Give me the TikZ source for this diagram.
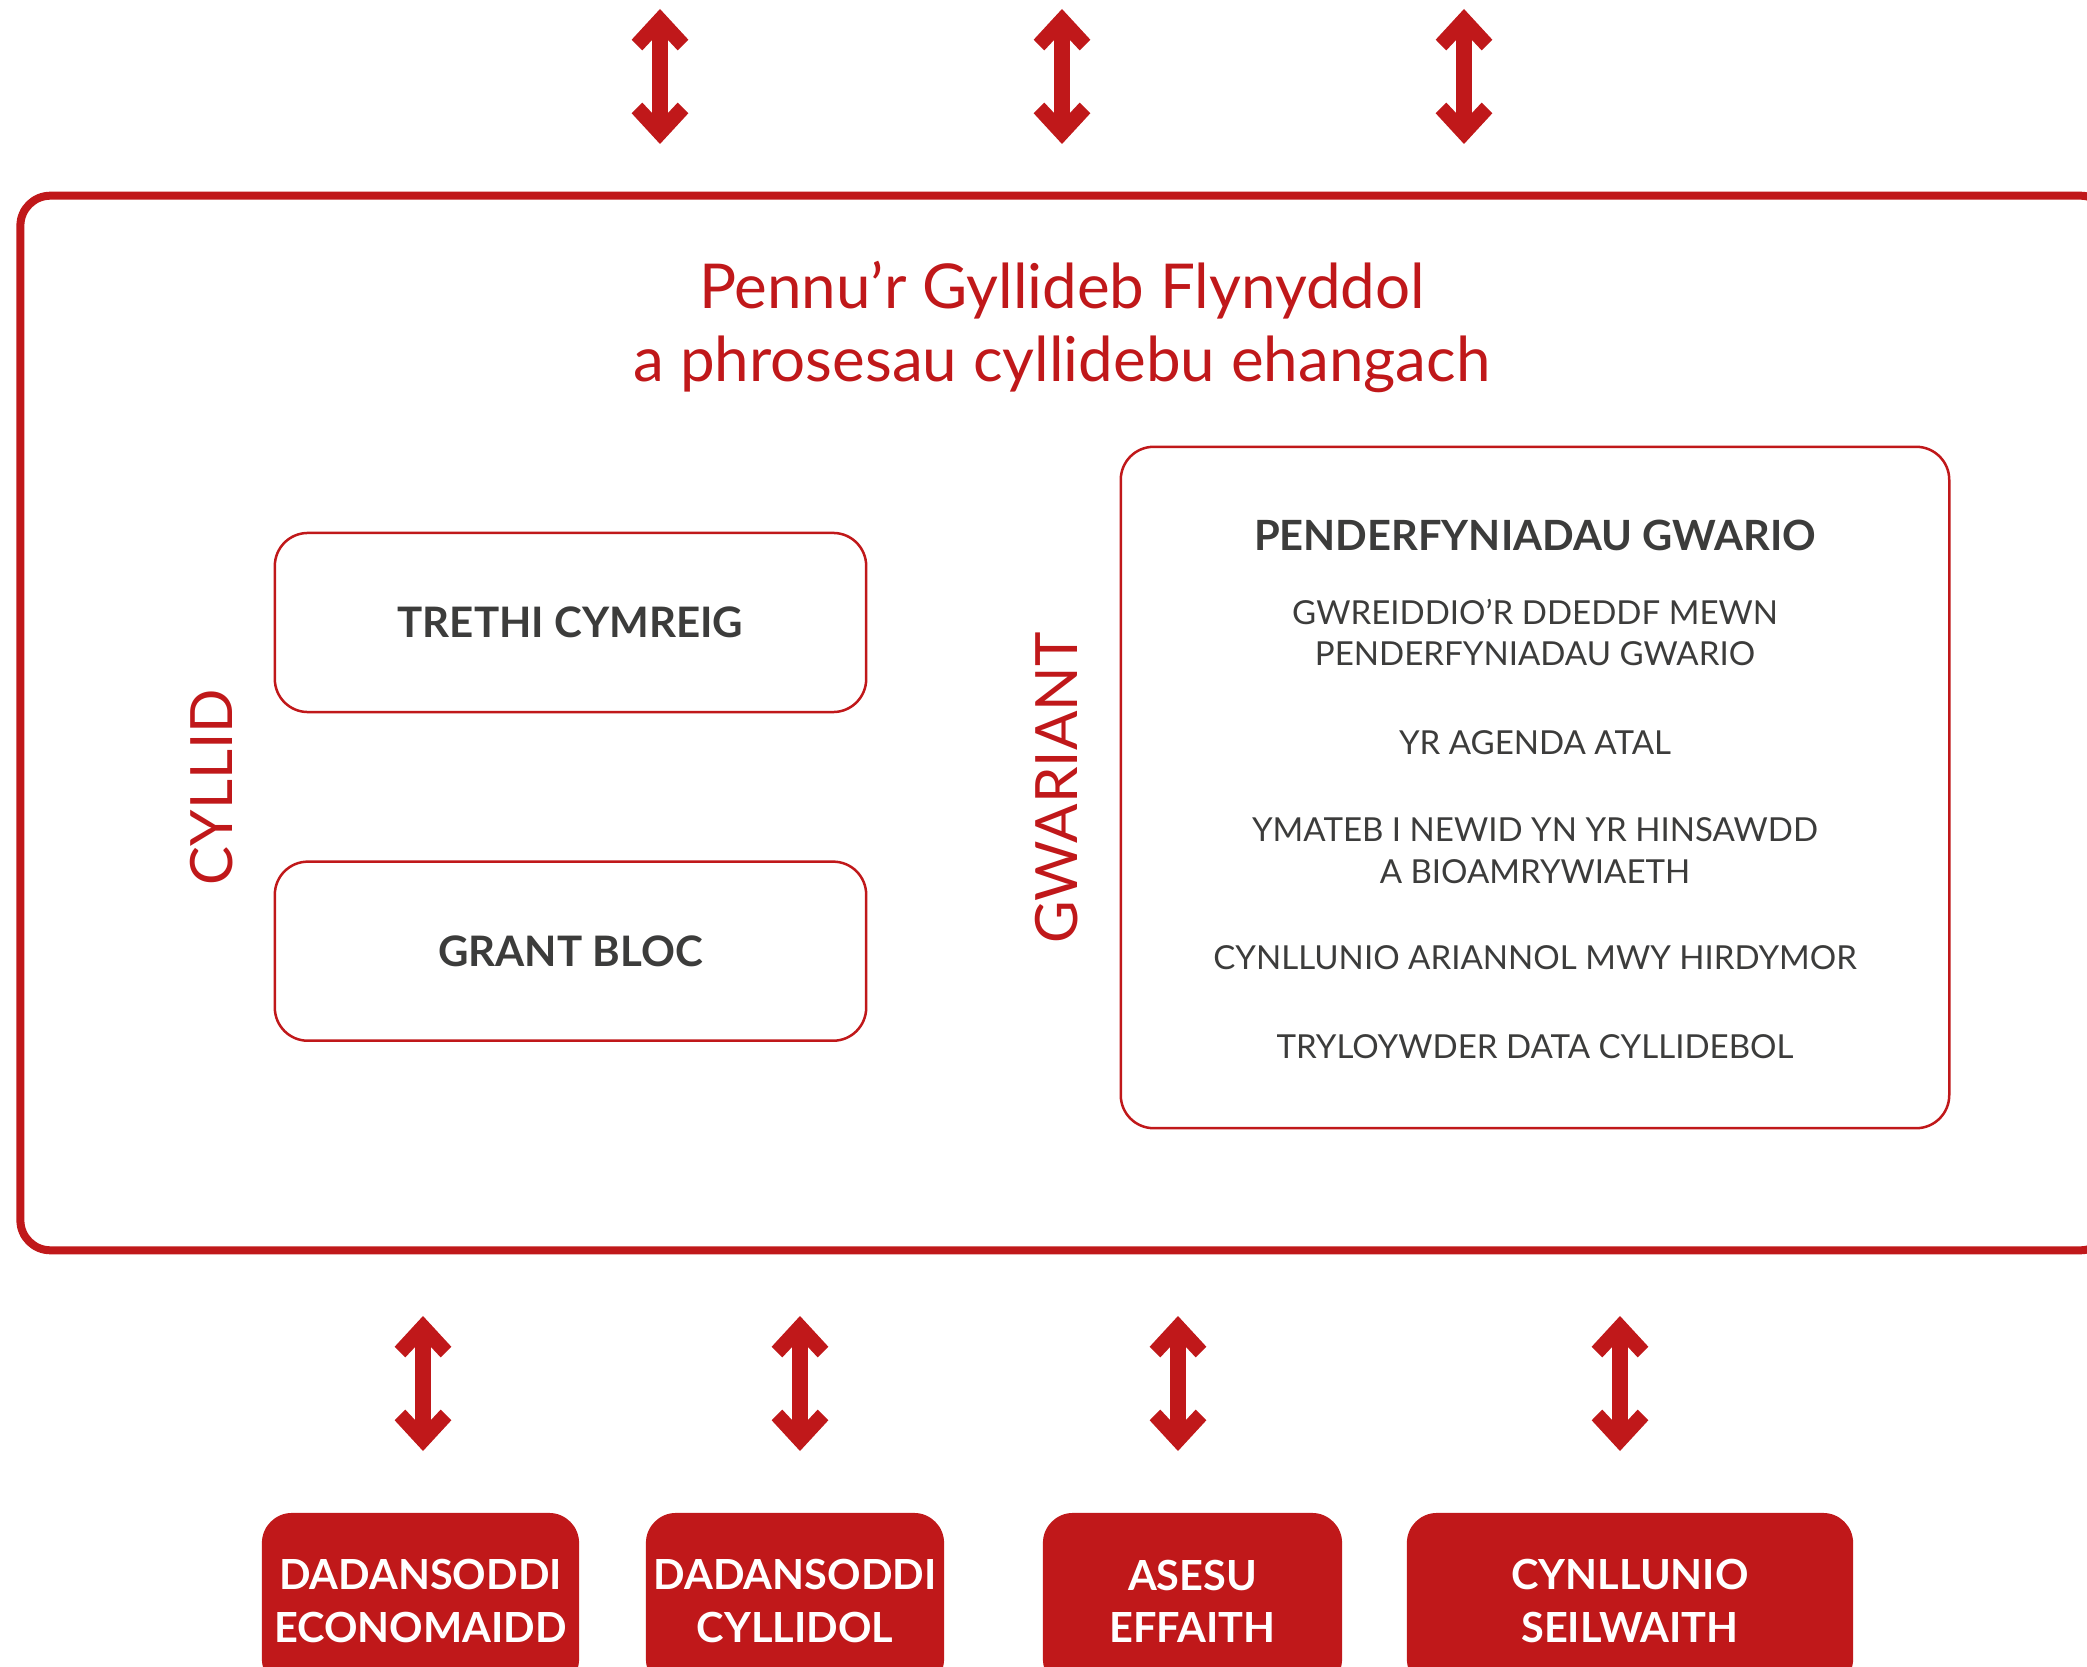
\documentclass[tikz,border=0pt]{standalone}
\usepackage{fontspec}
\setmainfont{Lato}
\usepackage{tikz}
\usetikzlibrary{positioning}

\definecolor{cyred}{RGB}{192,24,26}
\definecolor{cygray}{RGB}{60,60,59}

% chunky chevron head for the two-way arrows
\pgfdeclarearrow{
    name = Chev,
    setup code = {
        \pgfarrowssettipend{0pt}
        \pgfarrowssetlineend{-7pt}
        \pgfarrowssetbackend{-11.8pt}
        \pgfarrowshullpoint{0pt}{0pt}
        \pgfarrowsupperhullpoint{-11.8pt}{8.1pt}
    },
    drawing code = {
        \pgfpathmoveto{\pgfqpoint{0pt}{0pt}}
        \pgfpathlineto{\pgfqpoint{-8.73pt}{8.05pt}}
        \pgfpathlineto{\pgfqpoint{-11.78pt}{5.04pt}}
        \pgfpathlineto{\pgfqpoint{-8.93pt}{2.36pt}}
        \pgfpathlineto{\pgfqpoint{-8.93pt}{-2.36pt}}
        \pgfpathlineto{\pgfqpoint{-11.78pt}{-5.04pt}}
        \pgfpathlineto{\pgfqpoint{-8.73pt}{-8.05pt}}
        \pgfpathclose
        \pgfusepathqfill
    }
}

\tikzset{
    outerframe/.style={draw=cyred, line width=0.08cm, rounded corners=0.3cm},
    title/.style={text=cyred, align=center, inner sep=0pt,
        font=\fontsize{17.6}{20.5}\selectfont},
    sidelabel/.style={rotate=90, text=cyred, inner sep=0pt,
        font=\fontsize{16.6}{20}\selectfont},
    incbox/.style={draw=cyred, line width=0.025cm, rounded corners=0.33cm,
        minimum width=5.91cm, minimum height=1.79cm, text=cygray,
        font=\fontsize{11.95}{14}\selectfont\bfseries},
    spendbox/.style={draw=cyred, line width=0.025cm, rounded corners=0.33cm,
        minimum width=8.28cm, minimum height=6.81cm},
    heading/.style={text=cygray, inner sep=0pt,
        font=\fontsize{11.85}{14}\selectfont\bfseries},
    itemtext/.style={text=cygray, align=center, inner sep=0pt,
        font=\fontsize{9.4}{11.8}\selectfont},
    toolbox/.style={fill=cyred, rounded corners=0.3cm, text=white, align=center,
        inner xsep=1pt, minimum height=1.76cm,
        font=\fontsize{11.8}{14.8}\selectfont\bfseries},
    dblarrow/.style={cyred, line width=0.16cm, arrows={Chev-Chev}},
}

\begin{document}
\begin{tikzpicture}[x=0.01cm, y=-0.01cm]
    \useasboundingbox (0,0) rectangle (2087,1667);
    \clip (0,0) rectangle (2087,1667);

    % big frame, runs off the right edge
    \node[outerframe, minimum width=20.89cm, minimum height=10.54cm] (frame) at (1065.5,723) {};
    \node[title] (title) at (1062,327) {Pennu’r Gyllideb Flynyddol\\a phrosesau cyllidebu ehangach};

    % income side
    \node[sidelabel] (cyllid) at (212,787) {CYLLID};
    \node[incbox] (trethi) at (570.5,622.5) {TRETHI CYMREIG};
    \node[incbox] (grant) [below=1.47cm of trethi] {GRANT BLOC};

    % spending side
    \node[sidelabel] (gwariant) at (1057,788) {GWARIANT};
    \node[spendbox] (spend) at (1535,787.5) {};
    \node[heading] (penderf) at (1535,535) {PENDERFYNIADAU GWARIO};
    \node[itemtext] (i1) [below=0.47cm of penderf] {GWREIDDIO’R DDEDDF MEWN\\PENDERFYNIADAU GWARIO};
    \node[itemtext] (i2) [below=0.63cm of i1] {YR AGENDA ATAL};
    \node[itemtext] (i3) [below=0.62cm of i2] {YMATEB I NEWID YN YR HINSAWDD\\A BIOAMRYWIAETH};
    \node[itemtext] (i4) [below=0.60cm of i3] {CYNLLUNIO ARIANNOL MWY HIRDYMOR};
    \node[itemtext] (i5) [below=0.64cm of i4] {TRYLOYWDER DATA CYLLIDEBOL};

    % tools along the bottom
    \node[toolbox, minimum width=3.17cm] (econ) at (420.5,1601) {DADANSODDI\\ECONOMAIDD};
    \node[toolbox, minimum width=2.98cm] (cyllidol) at (795,1601) {DADANSODDI\\CYLLIDOL};
    \node[toolbox, minimum width=2.99cm] (asesu) at (1192.5,1601) {ASESU\\EFFAITH};
    \node[toolbox, minimum width=4.46cm] (seilwaith) at (1630,1601) {CYNLLUNIO\\SEILWAITH};

    % two-way arrows
    \foreach \x [count=\i] in {660,1062,1464} {
        \coordinate (up\i) at (\x,9);
        \coordinate (dn\i) at (\x,144);
        \draw[dblarrow] (up\i) -- (dn\i);
    }
    \foreach \x [count=\i] in {423,800,1178,1620} {
        \coordinate (lo\i) at (\x,1316);
        \coordinate (hi\i) at (\x,1451);
        \draw[dblarrow] (lo\i) -- (hi\i);
    }
\end{tikzpicture}
\end{document}
